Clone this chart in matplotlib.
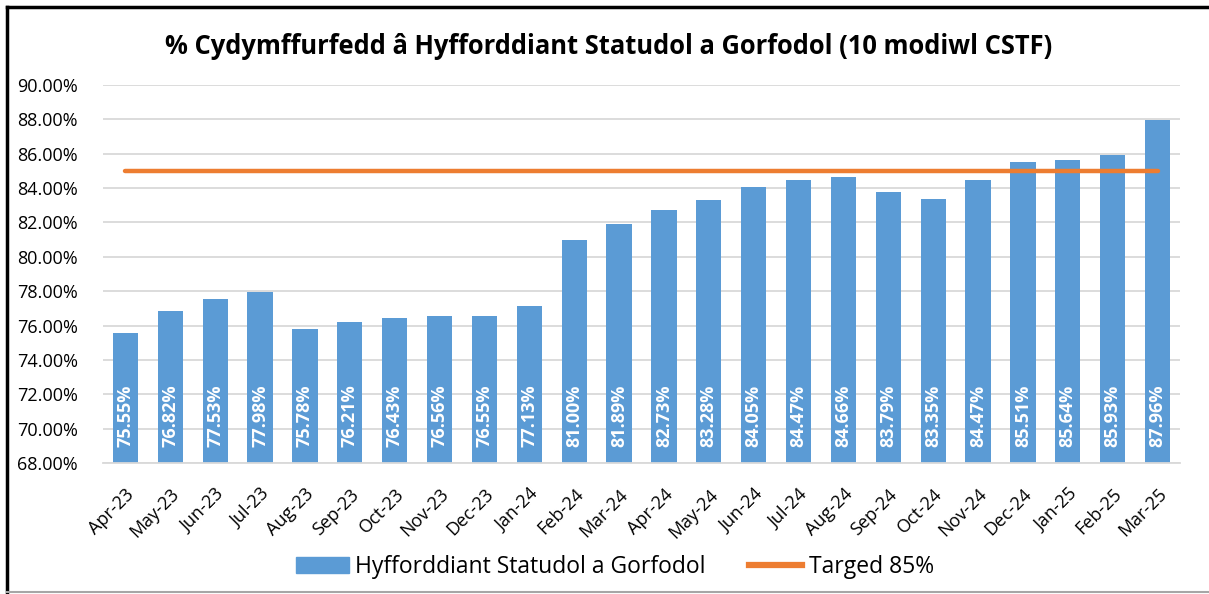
import matplotlib
matplotlib.use("Agg")
import matplotlib.pyplot as plt
from matplotlib.patches import Rectangle
from matplotlib.lines import Line2D
from matplotlib.ticker import FuncFormatter, MultipleLocator

months = ["Apr-23", "May-23", "Jun-23", "Jul-23", "Aug-23", "Sep-23", "Oct-23", "Nov-23",
          "Dec-23", "Jan-24", "Feb-24", "Mar-24", "Apr-24", "May-24", "Jun-24", "Jul-24",
          "Aug-24", "Sep-24", "Oct-24", "Nov-24", "Dec-24", "Jan-25", "Feb-25", "Mar-25"]
compliance = [75.55, 76.82, 77.53, 77.98, 75.78, 76.21, 76.43, 76.56, 76.55, 77.13, 81.00, 81.89,
              82.73, 83.28, 84.05, 84.47, 84.66, 83.79, 83.35, 84.47, 85.51, 85.64, 85.93, 87.96]
target = 85.0

title = "% Cydymffurfedd â Hyfforddiant Statudol a Gorfodol (10 modiwl CSTF)"
bar_label = "Hyfforddiant Statudol a Gorfodol"
line_label = "Targed 85%"

plt.rcParams['font.family'] = ['Open Sans', 'DejaVu Sans']

fig = plt.figure(figsize=(12.09, 5.94), dpi=100)
ax = fig.add_axes([103/1209, 1-463/594, (1180-103)/1209, (463-85)/594])

bar_color = "#5B9BD5"
line_color = "#ED7D31"
x = list(range(len(months)))
ax.bar(x, compliance, width=0.56, color=bar_color, zorder=2)
ax.plot([x[0], x[-1]], [target, target], color=line_color, lw=3.2, solid_capstyle='round', zorder=3)

for xi, v in zip(x, compliance):
    ax.text(xi, 68.95, f"{v:.2f}%", rotation=90, ha='center', va='bottom',
            color='white', fontsize=13, fontweight='bold', zorder=4)

ax.set_ylim(68, 90)
ax.set_xlim(-0.5, len(months) - 0.5)
ax.yaxis.set_major_locator(MultipleLocator(2))
ax.yaxis.set_major_formatter(FuncFormatter(lambda v, p: f"{v:.2f}%"))
ax.grid(axis='y', color='#D9D9D9', lw=1.3, zorder=0)
ax.set_axisbelow(True)
for s in ['top', 'right', 'left']:
    ax.spines[s].set_visible(False)
ax.spines['bottom'].set_color('#D9D9D9')
ax.spines['bottom'].set_linewidth(1.3)
ax.tick_params(axis='both', length=0, labelsize=13, colors='black')
ax.tick_params(axis='y', pad=18)
ax.set_xticks(x)
ax.set_xticklabels(months, rotation=45, ha='right', rotation_mode='anchor', fontsize=13)
ax.tick_params(axis='x', pad=16)

fig.text(0.5 * (163 + 1055) / 1209, 1 - 46/594, title, ha='center', va='center',
         fontsize=18.4, fontweight='bold')

handles = [Rectangle((0, 0), 1, 1, color=bar_color),
           Line2D([0], [0], color=line_color, lw=4.5)]
fig.legend(handles, [bar_label, line_label], loc='center', bbox_to_anchor=(615/1209, 1-567/594),
           ncol=2, frameon=False, fontsize=16.5, handlelength=2.3, handleheight=0.7,
           columnspacing=1.9, handletextpad=0.3)

# frame: black top & left, grey bottom
fig.add_artist(Line2D([7/1209, 1], [1-7/594, 1-7/594], transform=fig.transFigure,
                      color='black', lw=2.5))
fig.add_artist(Line2D([7/1209, 7/1209], [1-7/594, 2/594], transform=fig.transFigure,
                      color='black', lw=2.5))
fig.add_artist(Line2D([7/1209, 1], [2/594, 2/594], transform=fig.transFigure,
                      color='#A6A6A6', lw=1.5))

fig.savefig("out.png", dpi=100)
